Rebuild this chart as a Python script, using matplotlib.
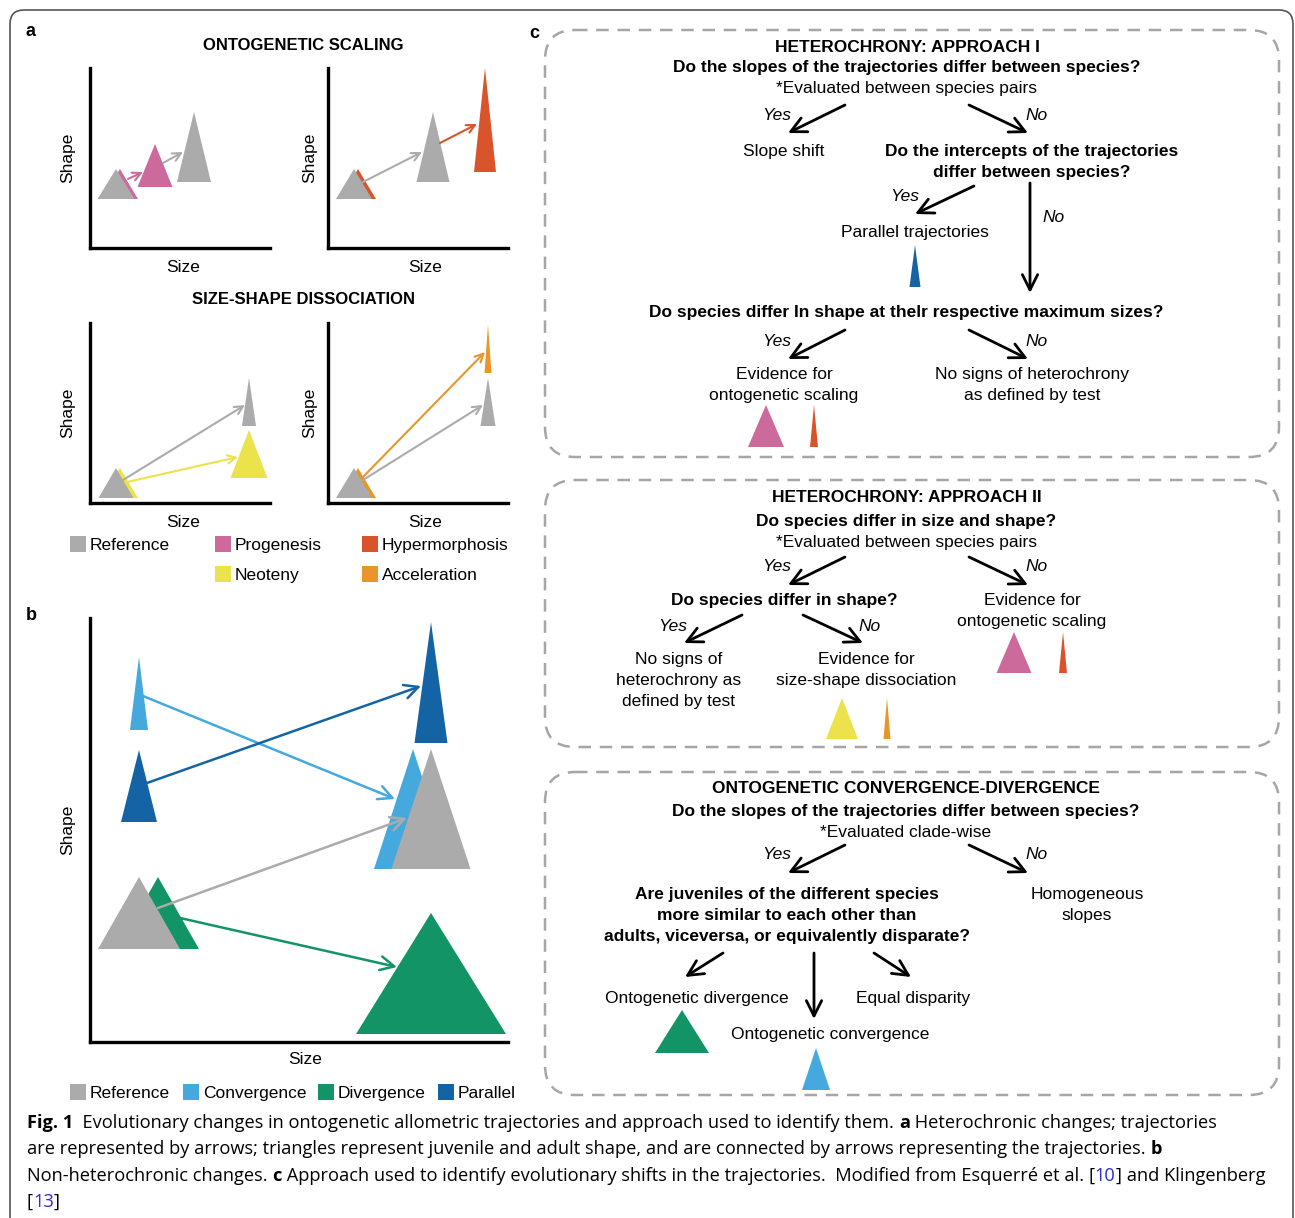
import matplotlib
matplotlib.use('Agg')
import matplotlib.pyplot as plt
from matplotlib.patches import Polygon, FancyBboxPatch, Rectangle

W, H = 1295, 1218
plt.rcParams['font.family'] = ['Liberation Sans', 'DejaVu Sans']

GREY = '#ababab'
PINK = '#cc6a9c'
RED = '#d9542a'
YELLOW = '#ebe24c'
ORANGE = '#e8952a'
LBLUE = '#45a9de'
DBLUE = '#1464a5'
GREEN = '#129467'

# ---- panel a: triangles (centre x, base y, width, height, colour), in axis pixels
prog_tris = [(30, 49, 36, 30, PINK), (26, 49, 37, 30, GREY),
             (65, 61, 35, 43, PINK), (104, 66, 34, 70, GREY)]
prog_arrows = [(38, 69, 53, 76, PINK), (73, 85, 93, 96, GREY)]

hyper_tris = [(30, 49, 36, 30, RED), (26, 49, 36, 30, GREY),
              (105, 66, 33, 70, GREY), (157, 76, 22, 104, RED)]
hyper_arrows = [(35, 66, 94, 96, GREY), (112, 105, 149, 124, RED)]

neo_tris = [(30, 5, 36, 30, YELLOW), (26, 5, 35, 30, GREY),
            (159, 77, 14, 48, GREY), (159, 25, 37, 48, YELLOW)]
neo_arrows = [(33, 23, 155, 98, GREY), (37, 21, 148, 46, YELLOW)]

accel_tris = [(30, 5, 36, 30, ORANGE), (26, 5, 36, 30, GREY),
              (160, 77, 15, 48, GREY), (160, 130, 7, 48, ORANGE)]
accel_arrows = [(34, 25, 157, 151, ORANGE), (35, 23, 155, 98, GREY)]

legend_a_names = ['Reference', 'Progenesis', 'Hypermorphosis', 'Neoteny', 'Acceleration']
legend_a_colors = [GREY, PINK, RED, YELLOW, ORANGE]

# ---- panel b
b_tris = [(68, 93, 82, 72, GREEN), (49, 93, 82, 72, GREY),
          (49, 312, 18, 73, LBLUE), (49, 220, 36, 72, DBLUE),
          (341, 299, 33, 121, DBLUE), (323, 173, 78, 120, LBLUE),
          (341, 173, 79, 120, GREY), (341, 8, 150, 121, GREEN)]
b_arrows = [(53, 346, 305, 243, LBLUE), (57, 259, 331, 356, DBLUE),
            (68, 134, 317, 224, GREY), (90, 124, 307, 75, GREEN)]
legend_b_names = ['Reference', 'Convergence', 'Divergence', 'Parallel']
legend_b_colors = [GREY, LBLUE, GREEN, DBLUE]

# ---- panel c: icon triangles (centre x, base y, width, height) in page pixels
c_tris = [(915, 287, 11, 42, DBLUE), (766, 447, 36, 42, PINK), (814, 447, 8, 42, RED),
          (1014, 673, 35, 41, PINK), (1063, 673, 8, 41, RED),
          (842, 739, 32, 41, YELLOW), (887, 739, 7, 41, ORANGE),
          (682, 1053, 54, 43, GREEN), (816, 1090, 28, 42, LBLUE)]
c_arrows = [(845, 105, 788, 133), (969, 105, 1028, 133),
            (974, 186, 915, 214), (1030, 183, 1030, 293),
            (845, 330, 788, 359), (969, 330, 1028, 359),
            (845, 557, 788, 585), (969, 557, 1028, 585),
            (742, 615, 684, 643), (803, 615, 863, 643),
            (845, 845, 788, 873), (969, 845, 1028, 873),
            (723, 953, 685, 977), (814, 953, 814, 1019), (874, 953, 911, 977)]
# (x, y, text, style) style: b bold, n normal, i italic
c_texts = [
    (907, 46, 'HETEROCHRONY: APPROACH I', 'b'),
    (907, 66, 'Do the slopes of the trajectories differ between species?', 'b'),
    (907, 87, '*Evaluated between species pairs', 'n'),
    (777, 114, 'Yes', 'i'), (1037, 114, 'No', 'i'),
    (784, 150, 'Slope shift', 'n'),
    (1032, 150, 'Do the intercepts of the trajectories', 'b'),
    (1032, 171, 'differ between species?', 'b'),
    (905, 195, 'Yes', 'i'), (1054, 216, 'No', 'i'),
    (915, 231, 'Parallel trajectories', 'n'),
    (906, 311, 'Do species differ In shape at thelr respective maximum sizes?', 'b'),
    (777, 340, 'Yes', 'i'), (1037, 340, 'No', 'i'),
    (784, 373, 'Evidence for', 'n'), (784, 394, 'ontogenetic scaling', 'n'),
    (1032, 373, 'No signs of heterochrony', 'n'), (1032, 394, 'as defined by test', 'n'),
    (907, 496, 'HETEROCHRONY: APPROACH II', 'b'),
    (906, 520, 'Do species differ in size and shape?', 'b'),
    (907, 541, '*Evaluated between species pairs', 'n'),
    (777, 565, 'Yes', 'i'), (1037, 565, 'No', 'i'),
    (784, 599, 'Do species differ in shape?', 'b'),
    (1032, 599, 'Evidence for', 'n'), (1032, 620, 'ontogenetic scaling', 'n'),
    (673, 625, 'Yes', 'i'), (870, 625, 'No', 'i'),
    (679, 658, 'No signs of', 'n'), (679, 679, 'heterochrony as', 'n'),
    (679, 700, 'defined by test', 'n'),
    (866, 658, 'Evidence for', 'n'), (866, 679, 'size-shape dissociation', 'n'),
    (906, 787, 'ONTOGENETIC CONVERGENCE-DIVERGENCE', 'b'),
    (906, 810, 'Do the slopes of the trajectories differ between species?', 'b'),
    (906, 831, '*Evaluated clade-wise', 'n'),
    (777, 853, 'Yes', 'i'), (1037, 853, 'No', 'i'),
    (787, 893, 'Are juveniles of the different species', 'b'),
    (787, 914, 'more similar to each other than', 'b'),
    (787, 935, 'adults, viceversa, or equivalently disparate?', 'b'),
    (1087, 893, 'Homogeneous', 'n'), (1087, 914, 'slopes', 'n'),
    (697, 997, 'Ontogenetic divergence', 'n'),
    (913, 997, 'Equal disparity', 'n'),
    (830, 1033, 'Ontogenetic convergence', 'n'),
]
c_boxes = [(545, 30, 1279, 457), (545, 480, 1279, 747), (545, 772, 1279, 1095)]

LINK = '#2b2bd9'
caption_lines = [
    [('Fig. 1', 'bold', 'k'),
     ('  Evolutionary changes in ontogenetic allometric trajectories and approach used to identify them. ', 'normal', 'k'),
     ('a', 'bold', 'k'), (' Heterochronic changes; trajectories', 'normal', 'k')],
    [('are represented by arrows; triangles represent juvenile and adult shape, and are connected by arrows representing the trajectories. ', 'normal', 'k'),
     ('b', 'bold', 'k')],
    [('Non-heterochronic changes. ', 'normal', 'k'), ('c', 'bold', 'k'),
     (' Approach used to identify evolutionary shifts in the trajectories.  Modified from Esquerré et al. ', 'normal', 'k'),
     ('[', 'normal', 'k'), ('10', 'normal', LINK), (']', 'normal', 'k'),
     (' and Klingenberg', 'normal', 'k')],
    [('[', 'normal', 'k'), ('13', 'normal', LINK), (']', 'normal', 'k')],
]
caption_y = [1123, 1149, 1176, 1202]

FS = 12.5
DY = 1.5  # small vertical nudge for centred text

fig = plt.figure(figsize=(W / 100, H / 100), dpi=100)
ov = fig.add_axes([0, 0, 1, 1])
ov.set_xlim(0, W)
ov.set_ylim(H, 0)
ov.axis('off')


def px_axes(x0, y0, x1, y1):
    ax = fig.add_axes([x0 / W, 1 - y1 / H, (x1 - x0) / W, (y1 - y0) / H])
    ax.set_xlim(0, x1 - x0)
    ax.set_ylim(0, y1 - y0)
    ax.set_facecolor('none')
    for s in ['top', 'right']:
        ax.spines[s].set_visible(False)
    for s in ['left', 'bottom']:
        ax.spines[s].set_linewidth(2.4)
    ax.set_xticks([])
    ax.set_yticks([])
    return ax


def tri(ax, cx, b, w, h, c, up=True):
    top = b + h if up else b - h
    ax.add_patch(Polygon([(cx - w / 2, b), (cx + w / 2, b), (cx, top)],
                         closed=True, facecolor=c, edgecolor='none', clip_on=False))


def arrow(ax, x0, y0, x1, y1, c, lw=1.6, ms=14):
    ax.annotate('', xy=(x1, y1), xytext=(x0, y0), annotation_clip=False,
                arrowprops=dict(arrowstyle='->,head_length=0.5,head_width=0.25',
                                color=c, lw=lw, shrinkA=0, shrinkB=0, mutation_scale=ms))


def panel(rect, tris, arrows, ms, lw, size_xy, shape_x):
    ax = px_axes(*rect)
    for t in tris:
        tri(ax, *t)
    for a in arrows:
        arrow(ax, *a, lw=lw, ms=ms)
    w = rect[2] - rect[0]
    h = rect[3] - rect[1]
    ax.set_xlabel('Size', fontsize=FS, va='center')
    ax.xaxis.set_label_coords((size_xy[0] - rect[0]) / w, -(size_xy[1] + DY - rect[3]) / h)
    ax.set_ylabel('Shape', fontsize=FS, va='center')
    ax.yaxis.set_label_coords(-(rect[0] - shape_x) / w, 0.5)
    return ax


# outer frame
ov.add_patch(FancyBboxPatch((10, 10), 1283, 1260, boxstyle='round,pad=0,rounding_size=14',
                            facecolor='none', edgecolor='#555555', lw=1.2, clip_on=False))

# panel a
ov.text(26, 32, 'a', fontsize=13, fontweight='bold', va='center')
ov.text(303, 46, 'ONTOGENETIC SCALING', fontsize=12, fontweight='bold', ha='center', va='center')
ov.text(303, 299, 'SIZE-SHAPE DISSOCIATION', fontsize=12, fontweight='bold', ha='center', va='center')
panel((90, 68, 270, 248), prog_tris, prog_arrows, 12, 1.5, (183, 266), 68)
panel((328, 68, 508, 248), hyper_tris, hyper_arrows, 12, 1.5, (425, 266), 310)
panel((90, 323, 270, 503), neo_tris, neo_arrows, 12, 1.5, (183, 521), 68)
panel((328, 323, 508, 503), accel_tris, accel_arrows, 12, 1.5, (425, 521), 310)

leg_pos = [(70, 544), (215, 544), (362, 544), (215, 574), (362, 574)]
for (lx, ly), name, col in zip(leg_pos, legend_a_names, legend_a_colors):
    ov.add_patch(Rectangle((lx, ly - 8), 16, 16, facecolor=col, edgecolor='none'))
    ov.text(lx + 20, ly + DY, name, fontsize=FS, va='center')

# panel b
ov.text(26, 615, 'b', fontsize=13, fontweight='bold', va='center')
panel((90, 618, 508, 1042), b_tris, b_arrows, 20, 1.8, (305, 1058), 68)
legb_x = [70, 183, 318, 438]
for lx, name, col in zip(legb_x, legend_b_names, legend_b_colors):
    ov.add_patch(Rectangle((lx, 1084), 16, 16, facecolor=col, edgecolor='none'))
    ov.text(lx + 20, 1092 + DY, name, fontsize=FS, va='center')

# panel c
ov.text(529, 33, 'c', fontsize=13, fontweight='bold', va='center')
for x0, y0, x1, y1 in c_boxes:
    ov.add_patch(FancyBboxPatch((x0, y0), x1 - x0, y1 - y0,
                                boxstyle='round,pad=0,rounding_size=30',
                                facecolor='none', edgecolor='#a6a6a6', lw=1.8,
                                linestyle=(0, (5, 3.5))))
for cx, b, w, h, c in c_tris:
    tri(ov, cx, b, w, h, c, up=False)
for x0, y0, x1, y1 in c_arrows:
    arrow(ov, x0, y0, x1, y1, 'k', lw=2.0, ms=22)
for x, y, s, st in c_texts:
    kw = dict(fontsize=FS, ha='center', va='center')
    if st == 'b':
        kw['fontweight'] = 'bold'
    elif st == 'i':
        kw['fontstyle'] = 'italic'
    ov.text(x, y + DY, s, **kw)

# caption with mixed runs
renderer = fig.canvas.get_renderer()
CAP_FONT = ['Open Sans', 'DejaVu Sans']
CAP_FS = 13.15


def text_width(s, weight):
    t = ov.text(0, 0, '|' + s + '|', fontsize=CAP_FS, fontweight=weight, family=CAP_FONT)
    t2 = ov.text(0, 0, '||', fontsize=CAP_FS, fontweight=weight, family=CAP_FONT)
    w = t.get_window_extent(renderer).width - t2.get_window_extent(renderer).width
    t.remove()
    t2.remove()
    return w


for y, runs in zip(caption_y, caption_lines):
    x = 27
    for s, weight, col in runs:
        ov.text(x, y, s, fontsize=CAP_FS, fontweight=weight, color=col,
                family=CAP_FONT, va='center')
        x += text_width(s, weight)

fig.savefig('out.png', dpi=100)
